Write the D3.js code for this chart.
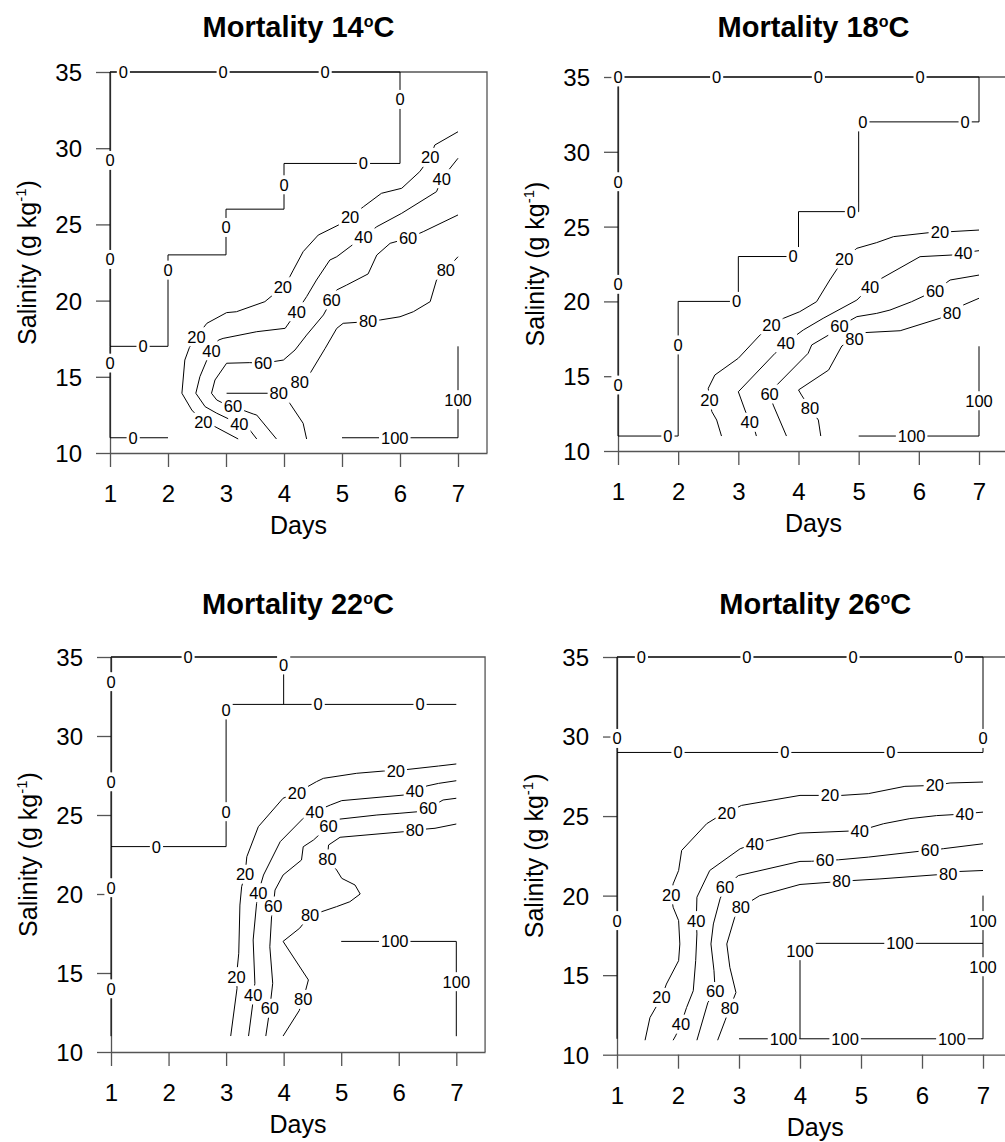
<!DOCTYPE html>
<html><head><meta charset="utf-8">
<script src="https://cdn.jsdelivr.net/npm/d3@7"></script>
<style>
body{margin:0;background:#fff;}
svg{display:block;font-family:"Liberation Sans", Arial, Helvetica, sans-serif;}
</style></head><body>
<svg id="chart" width="1005" height="1142"></svg>
<script>
// ---------- tick values ----------
const dayTicks = [1,2,3,4,5,6,7];
const salTicks = [10,15,20,25,30,35];
const temps = ["14","18","22","26"];

// ---------- Mortality 14 °C : contour lines [day, salinity] and label positions ----------
const m14_0a = [[1,35],[6,35],[6,29],[4,29],[4,26],[3,26],[3,23],[2,23],[2,17],[1,17],[1,35]];
const m14_0a_lab = [[1.23,35],[2.95,35],[4.71,35],[6,33.2],[5.37,29],[4,27.6],[3,24.8],[2,22.0],[1.57,17],[1,29.2],[1,22.7]];
const m14_0b = [[1,17],[1,11],[2,11]];
const m14_0b_lab = [[1,15.9],[1.4,11]];
const m14_100 = [[5,11],[7,11],[7,17]];
const m14_100_lab = [[5.91,11],[7,13.5]];
const m14_20 = [[7.0,31.08],[6.6,30.21],[6.34,28.46],[6.03,27.37],[5.68,27.04],[5.37,26.16],[4.94,24.96],[4.59,24.3],[4.33,23.21],[4.16,22.0],[4.1,21.57],[3.67,19.93],[3.18,19.27],[3.01,19.21],[2.67,18.51],[2.37,16.93],[2.29,16.1],[2.24,13.92],[2.41,12.82],[2.81,11.73],[3.21,10.92]];
const m14_20_lab = [[6.52,29.4],[5.14,25.5],[3.98,20.91],[2.49,17.63],[2.61,12.01]];
const m14_40 = [[7.0,29.34],[6.63,27.15],[6.03,25.73],[5.6,24.85],[5.14,23.54],[4.91,22.88],[4.79,22.66],[4.56,21.35],[4.39,20.26],[4.02,18.18],[3.53,17.96],[2.95,17.52],[2.87,17.41],[2.67,16.1],[2.55,15.01],[2.48,13.92],[2.64,13.04],[2.84,12.61],[3.41,11.51],[3.53,10.92]];
const m14_40_lab = [[6.72,28.0],[5.37,24.19],[4.22,19.27],[2.75,16.71],[3.23,11.9]];
const m14_60 = [[7.0,25.62],[6.4,24.52],[5.83,23.76],[5.6,22.99],[5.45,21.75],[5.08,21.02],[4.91,20.7],[4.68,19.06],[4.39,17.74],[4.19,16.76],[3.99,16.1],[3.41,15.93],[3.01,15.89],[2.81,14.79],[2.75,13.92],[2.84,13.48],[3.01,13.15],[3.47,12.56],[3.53,12.49],[3.87,10.92]];
const m14_60_lab = [[6.14,24.09],[4.82,20.04],[3.64,15.89],[3.12,13.05]];
const m14_80a = [[7.0,22.88],[6.63,21.35],[6.52,19.93],[6.23,19.27],[6.0,18.94],[5.66,18.73],[5.25,18.57],[5.02,18.51],[4.91,18.18],[4.71,16.87],[4.45,15.23],[4.16,14.24]];
const m14_80a_lab = [[6.79,22.0],[5.45,18.66],[4.27,14.66]];
const m14_80b = [[3.01,13.92],[4.0,13.92],[4.1,13.26],[4.33,11.95],[4.39,10.92]];
const m14_80b_lab = [[3.91,13.92]];

// ---------- Mortality 18 °C ----------
const m18_0 = [[1,35],[7,35],[7,32],[5,32],[5,26],[4,26],[4,23],[3,23],[3,20],[2,20],[2,11],[1,11],[1,35]];
const m18_0_lab = [[1,35],[2.64,35],[4.33,35],[6.02,35],[6.77,32],[5.07,32],[4.88,26],[3.91,23],[2.97,20],[2,17.09],[1.83,11],[1,14.41],[1,21.14],[1,28.0]];
const m18_100 = [[5,11],[7,11],[7,17]];
const m18_100_lab = [[5.88,11],[7,13.36]];
const m18_20 = [[7.0,24.77],[6.52,24.66],[6.16,24.59],[5.58,24.33],[5.3,23.93],[4.97,23.55],[4.63,22.1],[4.52,21.43],[4.3,19.98],[4.02,19.31],[3.75,18.87],[3.36,17.75],[3.0,16.2],[2.61,15.08],[2.5,14.19],[2.56,12.63],[2.64,12.07],[2.72,11.0]];
const m18_20_lab = [[6.35,24.62],[4.76,22.83],[3.55,18.42],[2.52,13.41]];
const m18_40 = [[7.0,23.39],[6.55,23.1],[6.02,22.99],[5.38,21.54],[4.97,20.09],[4.41,18.87],[4.08,18.09],[3.61,16.53],[3.0,13.96],[3.11,12.74],[3.28,11.29],[3.3,11.0]];
const m18_40_lab = [[6.74,23.26],[5.19,20.98],[3.79,17.24],[3.19,11.92]];
const m18_60 = [[7.0,21.76],[6.52,21.43],[5.88,19.98],[5.52,19.42],[5.3,19.2],[4.97,18.98],[4.5,17.75],[4.22,17.09],[4.16,16.53],[3.64,14.41],[3.58,13.07],[3.8,11.0]];
const m18_60_lab = [[6.27,20.71],[4.68,18.33],[3.52,13.81]];
const m18_80 = [[7.0,20.21],[6.74,19.76],[6.35,18.87],[5.69,18.04],[5.08,17.91],[4.72,17.02],[4.5,15.41],[4.0,14.08],[4.05,13.74],[4.33,12.07],[4.37,11.0]];
const m18_80_lab = [[6.55,19.24],[4.93,17.5],[4.19,12.85]];

// ---------- Mortality 22 °C ----------
const m22_0a = [[7,32],[3,32],[3,23],[1,23],[1,35],[4,35],[4,32]];
const m22_0a_lab = [[2.34,35],[4,34.5],[4.6,32],[6.37,32],[3,31.65],[3,25.21],[1.79,23],[1,33.44],[1,27.1]];
const m22_0b = [[1,23],[1,11]];
const m22_0b_lab = [[1,20.4],[1,14.0]];
const m22_100 = [[5,17],[7,17],[7,11]];
const m22_100_lab = [[5.93,17],[7,14.45]];
const m22_20 = [[7.0,28.23],[6.69,28.1],[5.73,27.78],[5.27,27.64],[4.69,27.32],[4.57,27.11],[3.99,26.06],[3.56,24.26],[3.36,22.36],[3.27,20.46],[3.24,19.3],[3.22,16.25],[3.19,14.03],[3.08,11.01]];
const m22_20_lab = [[5.95,27.8],[4.23,26.41],[3.33,21.25],[3.18,14.77]];
const m22_40 = [[7.0,27.17],[6.69,27.0],[6.49,26.84],[6.11,26.27],[5.01,25.91],[4.81,25.63],[4.34,24.79],[3.94,23.31],[3.65,21.2],[3.53,19.41],[3.47,17.09],[3.5,14.35],[3.46,12.97],[3.39,11.01]];
const m22_40_lab = [[6.28,26.52],[4.54,25.21],[3.56,20.08],[3.47,13.61]];
const m22_60 = [[7.0,26.06],[6.77,25.95],[6.34,25.21],[6.02,25.11],[5.62,25.0],[4.95,24.73],[4.52,23.42],[4.34,22.99],[4.31,22.15],[3.99,21.2],[3.85,20.25],[3.79,18.56],[3.76,16.66],[3.81,14.35],[3.74,12.23],[3.69,11.01]];
const m22_60_lab = [[6.51,25.42],[4.78,24.3],[3.82,19.24],[3.76,12.77]];
const m22_80 = [[7.0,24.43],[6.63,24.16],[6.11,23.95],[4.98,23.59],[4.78,23.1],[4.92,21.52],[5.01,20.99],[5.24,20.57],[5.33,20.0],[5.15,19.51],[4.92,19.2],[4.66,18.88],[4.28,17.84],[3.99,17.0],[4.43,14.56],[4.27,12.62],[3.99,11.01]];
const m22_80_lab = [[6.28,24.05],[4.76,22.22],[4.46,18.67],[4.34,13.33]];

// ---------- Mortality 26 °C ----------
const m26_0a = [[1,35],[7,35],[7,29],[1,29],[1,35]];
const m26_0a_lab = [[1.4,35],[3.13,35],[4.87,35],[6.6,35],[7,29.88],[2.0,29],[3.75,29],[5.49,29],[1,29.88]];
const m26_0b = [[1,29],[1,11]];
const m26_0b_lab = [[1,18.43]];
const m26_100a = [[7,20],[7,11],[3,11]];
const m26_100a_lab = [[7,18.43],[7,15.53],[6.49,11],[4.74,11],[3.73,11]];
const m26_100b = [[7,17],[4,17],[4,11]];
const m26_100b_lab = [[5.64,17],[4,16.54]];
const m26_20 = [[7.0,27.14],[6.46,27.08],[5.72,26.87],[5.12,26.41],[4.68,26.3],[4.33,26.3],[4.0,26.3],[3.04,25.67],[2.63,24.9],[2.47,24.52],[2.06,22.84],[2.01,21.58],[1.92,20.74],[1.92,19.27],[2.01,18.43],[2.03,16.96],[2.01,15.91],[1.81,14.44],[1.54,12.33],[1.46,10.91]];
const m26_20_lab = [[6.21,26.93],[4.49,26.3],[2.8,25.21],[1.89,20.05],[1.73,13.6]];
const m26_40 = [[7.0,25.25],[6.51,25.09],[6.24,25.03],[5.8,24.84],[5.37,24.52],[5.18,24.31],[4.82,24.06],[4.0,23.93],[3.48,23.47],[3.02,22.95],[2.52,21.58],[2.31,19.9],[2.31,17.59],[2.29,15.91],[2.25,14.02],[2.14,12.96],[1.96,11.18],[1.92,10.91]];
const m26_40_lab = [[6.7,25.15],[4.98,24.06],[3.26,23.26],[2.3,18.43],[2.05,11.92]];
const m26_60 = [[7.0,23.26],[6.35,22.95],[5.94,22.78],[5.12,22.42],[4.63,22.25],[4.19,22.16],[4.0,22.15],[2.99,21.26],[2.69,19.8],[2.58,18.22],[2.54,16.96],[2.59,15.28],[2.49,13.28],[2.31,10.91]];
const m26_60_lab = [[6.13,22.84],[4.41,22.21],[2.77,20.53],[2.61,13.97]];
const m26_80 = [[7.0,21.58],[6.62,21.52],[6.24,21.31],[5.31,21.05],[4.87,20.95],[4.49,20.84],[4.0,20.7],[3.34,20.0],[3.21,19.69],[2.93,18.64],[2.8,16.96],[2.85,15.49],[2.95,13.91],[2.77,12.13],[2.65,10.91]];
const m26_80_lab = [[6.43,21.37],[4.68,20.89],[3.03,19.27],[2.85,12.93]];

// ---------- assemble (layout in pixels: where day 1 / day 7 and salinity 10 / 35 fall) ----------
const contours = [
  [ ["0",m14_0a,m14_0a_lab],["0",m14_0b,m14_0b_lab],["100",m14_100,m14_100_lab],["20",m14_20,m14_20_lab],
    ["40",m14_40,m14_40_lab],["60",m14_60,m14_60_lab],["80",m14_80a,m14_80a_lab],["80",m14_80b,m14_80b_lab] ],
  [ ["0",m18_0,m18_0_lab],["100",m18_100,m18_100_lab],["20",m18_20,m18_20_lab],["40",m18_40,m18_40_lab],
    ["60",m18_60,m18_60_lab],["80",m18_80,m18_80_lab] ],
  [ ["0",m22_0a,m22_0a_lab],["0",m22_0b,m22_0b_lab],["100",m22_100,m22_100_lab],["20",m22_20,m22_20_lab],
    ["40",m22_40,m22_40_lab],["60",m22_60,m22_60_lab],["80",m22_80,m22_80_lab] ],
  [ ["0",m26_0a,m26_0a_lab],["0",m26_0b,m26_0b_lab],["100",m26_100a,m26_100a_lab],["100",m26_100b,m26_100b_lab],
    ["20",m26_20,m26_20_lab],["40",m26_40,m26_40_lab],["60",m26_60,m26_60_lab],["80",m26_80,m26_80_lab] ]
];
const layout = [
  {x1:110, x7:458,   y10:453,   y35:72,  titleY:37},
  {x1:618, x7:979,   y10:451,   y35:77,  titleY:37},
  {x1:111, x7:456.3, y10:1052,  y35:657, titleY:614},
  {x1:617, x7:983,   y10:1054.7,y35:657, titleY:614}
];

const W = 1005, H = 1142;
const AX = "#555";
const LAB_FS = 16.5;
const svg = d3.select("#chart");
const defs = svg.append("defs");
const meas = svg.append("text").attr("font-size", LAB_FS).attr("visibility","hidden");
function textW(s){ meas.text(s); return meas.node().getComputedTextLength(); }
function segDist(p, a, b){
  const dx=b[0]-a[0], dy=b[1]-a[1];
  const L2 = dx*dx+dy*dy;
  let t = L2 ? ((p[0]-a[0])*dx+(p[1]-a[1])*dy)/L2 : 0;
  t = Math.max(0, Math.min(1, t));
  const qx=a[0]+t*dx, qy=a[1]+t*dy;
  return Math.hypot(p[0]-qx, p[1]-qy);
}

layout.forEach((p, pi) => {
  const step = (p.x7 - p.x1)/6;
  const x = d3.scaleLinear().domain([1, 7.5]).range([p.x1, p.x1 + 6.5*step]);
  const y = d3.scaleLinear().domain([10, 35]).range([p.y10, p.y35]);
  const g = svg.append("g");
  const gAx = g.append("g"), gWhite = g.append("g"), gLines = g.append("g"), gText = g.append("g");

  // frame (top & right)
  gAx.append("path").attr("d", `M${x(1)},${y(35)}H${x(7.5)}V${y(10)}`)
    .attr("fill","none").attr("stroke",AX).attr("stroke-width",1.3);

  // x axis
  const xa = gAx.append("g").attr("transform",`translate(0,${y(10)})`)
    .call(d3.axisBottom(x).tickValues(dayTicks).tickSize(14).tickSizeOuter(0).tickFormat(d3.format("d")));
  xa.selectAll("text").attr("y",49).attr("dy","0").attr("font-size",24).attr("fill","#000");
  // y axis
  const ya = gAx.append("g").attr("transform",`translate(${x(1)},0)`)
    .call(d3.axisLeft(y).tickValues(salTicks).tickSize(14).tickSizeOuter(0).tickPadding(14));
  ya.selectAll("text").attr("dy","0.35em").attr("font-size",24).attr("fill","#000");
  [xa, ya].forEach(a => {
    a.attr("font-family", null);
    a.selectAll("path, line").attr("stroke", AX).attr("stroke-width",1.3);
  });

  // title
  const t = g.append("text").attr("x",(x(1)+x(7.5))/2).attr("y",p.titleY)
    .attr("text-anchor","middle").attr("font-size",29).attr("font-weight","bold");
  t.append("tspan").text("Mortality " + temps[pi]);
  t.append("tspan").attr("font-size",16).attr("dy",-10).text("o");
  t.append("tspan").attr("dy",10).text("C");

  // axis titles
  g.append("text").attr("x",(x(1)+x(7.5))/2).attr("y",y(10)+81)
    .attr("text-anchor","middle").attr("font-size",25).text("Days");
  const yl = g.append("text")
    .attr("transform",`translate(${x(1)-74},${(y(10)+y(35))/2}) rotate(-90)`)
    .attr("text-anchor","middle").attr("font-size",25);
  yl.append("tspan").text("Salinity (g kg");
  yl.append("tspan").attr("font-size",15).attr("dy",-10).text("-1");
  yl.append("tspan").attr("dy",10).text(")");

  // contours
  const line = d3.line();
  contours[pi].forEach((c, ci) => {
    const lvl = c[0];
    const pts = c[1].map(d => [x(d[0]), y(d[1])]);
    const labs = c[2].map(d => [x(d[0]), y(d[1])]);
    labs.forEach(L => {
      let best = 0, bd = Infinity;
      for (let i = 0; i < pts.length-1; i++) {
        const dd = segDist(L, pts[i], pts[i+1]);
        if (dd < bd) { bd = dd; best = i; }
      }
      pts.splice(best+1, 0, L);
    });
    const tw = textW(lvl);
    const id = `mk${pi}_${ci}`;
    const mk = defs.append("mask").attr("id",id).attr("maskUnits","userSpaceOnUse")
      .attr("x",0).attr("y",0).attr("width",W).attr("height",H);
    mk.append("rect").attr("width",W).attr("height",H).attr("fill","#fff");
    labs.forEach(L => {
      mk.append("rect").attr("x",L[0]-tw/2-2).attr("y",L[1]-9.5).attr("width",tw+4).attr("height",19).attr("fill","#000");
      gWhite.append("rect").attr("x",L[0]-tw/2-2).attr("y",L[1]-9.5).attr("width",tw+4).attr("height",19).attr("fill","#fff");
      gText.append("text").attr("x",L[0]).attr("y",L[1]).attr("dy","0.36em")
        .attr("text-anchor","middle").attr("font-size",LAB_FS).attr("fill","#000").text(lvl);
    });
    gLines.append("path").attr("d", line(pts)).attr("fill","none")
      .attr("stroke","#000").attr("stroke-width",1).attr("mask",`url(#${id})`);
  });
});
meas.remove();
</script>
</body></html>
